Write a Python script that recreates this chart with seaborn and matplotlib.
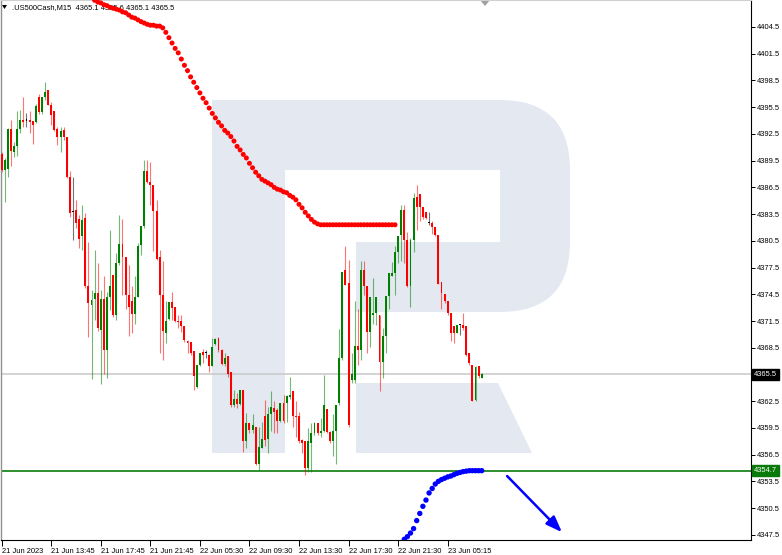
import numpy as np
import pandas as pd
import matplotlib
matplotlib.use("Agg")
import matplotlib.pyplot as plt
import seaborn as sns
from matplotlib.patches import Rectangle, FancyBboxPatch, Polygon

# ---------------- data ----------------
title_text = ".US500Cash,M15  4365.1 4365.6 4365.1 4365.5"

opens = [4390.2, 4388.5, 4388.6, 4393.0, 4390.5, 4391.1, 4393.0, 4394.1, 4394.0, 4394.1,
         4394.0, 4393.8, 4396.6, 4395.0, 4396.6, 4397.4, 4395.7, 4395.1, 4393.1, 4392.2,
         4392.9, 4392.1, 4387.7, 4383.7, 4384.0, 4383.0, 4381.0, 4383.1, 4375.4, 4373.3,
         4374.0, 4374.6, 4370.5, 4374.0, 4368.2, 4374.2, 4376.7, 4372.2, 4378.0, 4380.1,
         4378.7, 4374.4, 4373.7, 4372.3, 4374.2, 4380.0, 4382.2, 4388.3, 4387.1, 4386.8,
         4383.9, 4378.7, 4374.4, 4370.1, 4371.7, 4373.6, 4373.1, 4371.5, 4371.5, 4370.9,
         4369.2, 4369.1, 4368.1, 4364.1, 4366.6, 4368.0, 4367.9, 4367.7, 4366.5, 4368.9,
         4369.6, 4368.3, 4366.7, 4367.6, 4365.8, 4362.1, 4362.8, 4362.2, 4363.8, 4358.0,
         4360.0, 4359.3, 4359.6, 4355.5, 4357.3, 4360.8, 4358.3, 4361.1, 4361.7, 4361.5,
         4360.3, 4362.3, 4362.3, 4363.0, 4363.6, 4360.8, 4360.8, 4358.1, 4358.0, 4355.0,
         4357.8, 4358.9, 4360.0, 4358.9, 4359.1, 4361.6, 4359.0, 4358.0, 4359.1, 4362.3,
         4367.3, 4377.2, 4375.8, 4364.9, 4364.9, 4368.7, 4368.2, 4377.2, 4375.4, 4370.3,
         4372.2, 4372.4, 4372.2, 4366.9, 4369.8, 4374.3, 4376.5, 4376.9, 4379.3, 4381.2,
         4384.0, 4380.6, 4375.4, 4380.6, 4385.4, 4385.7, 4384.3, 4383.7, 4382.5, 4382.5,
         4382.1, 4381.1, 4375.9, 4374.5, 4373.7, 4372.4, 4370.9, 4370.2, 4371.1, 4371.0,
         4370.9, 4367.9, 4366.6, 4362.6, 4366.5, 4365.1]
highs = [4390.5, 4389.8, 4393.2, 4394.1, 4391.6, 4395.1, 4395.2, 4396.6, 4394.8, 4395.1,
         4394.0, 4395.9, 4397.0, 4396.6, 4398.3, 4397.4, 4396.1, 4395.1, 4393.3, 4393.3,
         4393.3, 4392.1, 4388.3, 4387.7, 4385.1, 4383.4, 4384.5, 4383.6, 4380.4, 4375.0,
         4379.5, 4378.0, 4375.0, 4376.5, 4374.7, 4381.7, 4376.7, 4379.1, 4383.4, 4382.9,
         4378.7, 4377.8, 4375.4, 4376.6, 4380.3, 4382.2, 4389.6, 4389.6, 4389.4, 4386.8,
         4385.1, 4379.5, 4378.2, 4373.7, 4373.6, 4374.7, 4373.1, 4372.2, 4372.2, 4370.9,
         4369.4, 4369.1, 4368.1, 4366.6, 4367.9, 4368.4, 4368.3, 4367.8, 4369.6, 4369.6,
         4369.7, 4368.4, 4367.9, 4367.6, 4365.8, 4363.8, 4363.4, 4363.8, 4363.8, 4361.2,
         4360.0, 4361.1, 4359.6, 4359.6, 4360.2, 4362.6, 4361.9, 4363.6, 4362.5, 4361.7,
         4362.3, 4363.2, 4363.2, 4365.2, 4363.6, 4362.5, 4361.3, 4358.3, 4358.0, 4359.5,
         4360.0, 4360.2, 4360.0, 4360.6, 4365.4, 4361.6, 4359.1, 4361.1, 4362.1, 4370.6,
         4377.0, 4379.9, 4378.4, 4367.9, 4373.7, 4372.9, 4378.2, 4378.2, 4375.4, 4374.2,
         4376.3, 4374.2, 4372.2, 4370.7, 4374.3, 4376.9, 4378.1, 4379.9, 4381.0, 4384.5,
         4384.5, 4381.5, 4380.8, 4385.9, 4386.8, 4385.7, 4384.3, 4383.7, 4383.7, 4382.7,
         4382.1, 4381.2, 4375.9, 4374.5, 4373.7, 4372.4, 4370.9, 4371.1, 4371.2, 4372.4,
         4370.9, 4367.9, 4366.6, 4366.5, 4366.5, 4365.7]
lows = [4388.2, 4384.9, 4387.7, 4388.9, 4389.9, 4390.0, 4392.6, 4393.3, 4393.3, 4392.6,
        4391.4, 4393.7, 4394.7, 4394.7, 4396.3, 4395.7, 4393.5, 4392.8, 4391.3, 4390.5,
        4391.8, 4387.5, 4383.2, 4380.6, 4381.9, 4379.7, 4379.5, 4375.2, 4369.7, 4365.0,
        4371.6, 4370.4, 4364.4, 4365.6, 4365.1, 4372.7, 4372.0, 4371.6, 4377.8, 4374.4,
        4372.9, 4369.8, 4370.1, 4371.2, 4374.2, 4378.9, 4381.9, 4387.0, 4384.5, 4379.4,
        4378.4, 4367.9, 4367.1, 4369.0, 4371.6, 4371.6, 4371.4, 4370.7, 4370.3, 4369.1,
        4367.9, 4367.7, 4363.8, 4364.0, 4366.4, 4366.8, 4367.3, 4365.8, 4366.4, 4368.8,
        4368.0, 4366.6, 4366.4, 4365.2, 4361.9, 4361.9, 4361.7, 4362.1, 4356.8, 4357.2,
        4358.9, 4358.9, 4355.3, 4354.8, 4357.2, 4357.5, 4356.7, 4359.1, 4358.9, 4358.9,
        4360.2, 4360.0, 4360.2, 4362.7, 4359.6, 4358.5, 4357.8, 4356.7, 4354.2, 4354.6,
        4354.6, 4358.7, 4358.7, 4358.5, 4359.0, 4358.9, 4357.8, 4356.3, 4355.5, 4362.1,
        4367.1, 4375.5, 4359.6, 4364.5, 4364.5, 4366.6, 4367.1, 4374.4, 4367.9, 4368.6,
        4371.2, 4371.1, 4363.6, 4365.1, 4367.9, 4372.9, 4376.5, 4374.4, 4378.0, 4378.2,
        4378.0, 4375.3, 4373.1, 4379.3, 4381.7, 4382.7, 4383.0, 4382.9, 4382.3, 4381.3,
        4381.0, 4375.6, 4372.9, 4373.5, 4372.2, 4369.2, 4369.0, 4370.1, 4369.9, 4370.5,
        4367.6, 4366.6, 4362.5, 4362.5, 4365.1, 4365.1]
closes = [4388.5, 4389.6, 4393.0, 4390.6, 4391.1, 4393.0, 4394.1, 4393.8, 4394.0, 4393.8,
          4393.5, 4395.6, 4395.0, 4396.6, 4397.2, 4395.7, 4394.6, 4392.9, 4392.2, 4392.8,
          4392.2, 4387.7, 4383.6, 4383.7, 4382.5, 4380.7, 4382.8, 4375.4, 4373.5, 4373.9,
          4374.6, 4370.7, 4374.0, 4368.2, 4374.2, 4375.4, 4372.2, 4378.0, 4380.1, 4378.7,
          4374.4, 4373.1, 4372.3, 4374.2, 4379.9, 4382.2, 4388.3, 4387.1, 4386.8, 4383.8,
          4378.5, 4374.4, 4370.4, 4371.5, 4373.6, 4373.0, 4371.5, 4371.4, 4370.9, 4369.4,
          4369.0, 4367.9, 4365.3, 4366.6, 4367.9, 4367.7, 4367.9, 4366.4, 4368.6, 4369.5,
          4368.3, 4366.7, 4367.4, 4365.6, 4362.1, 4362.8, 4362.2, 4363.8, 4358.0, 4360.0,
          4359.3, 4359.8, 4355.5, 4357.4, 4358.3, 4358.1, 4361.1, 4361.9, 4361.3, 4360.3,
          4362.3, 4360.3, 4363.1, 4363.2, 4360.8, 4360.7, 4358.0, 4357.8, 4355.0, 4358.0,
          4358.9, 4360.0, 4358.9, 4359.1, 4362.1, 4359.0, 4358.0, 4359.1, 4362.1, 4367.3,
          4377.0, 4375.5, 4359.8, 4365.6, 4368.7, 4368.2, 4377.2, 4375.4, 4370.3, 4374.2,
          4372.4, 4374.2, 4366.9, 4369.8, 4374.3, 4376.9, 4376.9, 4379.3, 4381.0, 4384.0,
          4380.6, 4375.4, 4380.6, 4385.3, 4384.3, 4384.3, 4383.2, 4383.1, 4382.5, 4382.1,
          4381.1, 4375.7, 4374.6, 4373.7, 4372.4, 4370.2, 4370.1, 4371.1, 4371.1, 4370.7,
          4367.7, 4366.8, 4362.5, 4366.3, 4365.3, 4365.5]

red_line_start = 29   # candle index of first red dot
red_line = [4407.9, 4407.5, 4407.3, 4407.2, 4407.0, 4406.9, 4406.7, 4406.6, 4406.5, 4406.4,
            4406.2, 4406.1, 4405.85, 4405.6, 4405.5, 4405.3, 4405.1, 4404.95, 4404.8, 4404.7,
            4404.7, 4404.6, 4404.6, 4404.4, 4403.9, 4403.3, 4402.7, 4402.1, 4401.6, 4400.9,
            4400.2, 4399.6, 4398.9, 4398.3, 4397.7, 4397.1, 4396.5, 4396.0, 4395.4, 4394.8,
            4394.3, 4393.8, 4393.4, 4392.9, 4392.6, 4392.2, 4391.7, 4391.1, 4390.7, 4390.2,
            4389.8, 4389.2, 4388.7, 4388.2, 4387.8, 4387.4, 4387.2, 4387.0, 4386.8, 4386.5,
            4386.3, 4386.2, 4386.0, 4385.9, 4385.6, 4385.4, 4385.1, 4384.6, 4384.2, 4383.7,
            4383.3, 4382.9, 4382.6, 4382.4, 4382.3, 4382.3, 4382.3, 4382.3, 4382.3, 4382.3,
            4382.3, 4382.3, 4382.3, 4382.3, 4382.3, 4382.3, 4382.3, 4382.3, 4382.3, 4382.3,
            4382.3, 4382.3, 4382.3, 4382.3, 4382.3, 4382.3, 4382.3, 4382.3, 4382.3]

blue_line_start = 129
blue_line = [4346.6, 4347.0, 4347.3, 4347.7, 4348.2, 4349.1, 4349.9, 4350.7, 4351.4, 4352.2,
             4352.7, 4353.2, 4353.5, 4353.7, 4353.85, 4354.0, 4354.1, 4354.25, 4354.4, 4354.5,
             4354.6, 4354.65, 4354.7, 4354.7, 4354.7, 4354.7, 4354.7]

support_level = 4354.7
last_price = 4365.5
arrow_from = (163.2, 4354.1)
arrow_to = (180.9, 4347.8)

ytick_values = [4404.5, 4401.5, 4398.5, 4395.5, 4392.5, 4389.5, 4386.5, 4383.5, 4380.5,
                4377.5, 4374.5, 4371.5, 4368.5, 4365.5, 4362.5, 4359.5, 4356.5, 4353.5,
                4350.5, 4347.5]
xtick_index = [0, 16, 32, 48, 64, 80, 96, 112, 128, 144]
xtick_labels = ["21 Jun 2023", "21 Jun 13:45", "21 Jun 17:45", "21 Jun 21:45",
                "22 Jun 05:30", "22 Jun 09:30", "22 Jun 13:30", "22 Jun 17:30",
                "22 Jun 21:30", "23 Jun 05:15"]

# ---------------- style ----------------
sns.set_theme(style="white")
plt.rcParams["font.family"] = ["Liberation Sans", "DejaVu Sans"]
FS = 5.4
BULL = "#008000"
BEAR = "#ff0000"
WM = "#e4e9f1"

W, H = 782, 555
fig = plt.figure(figsize=(W / 100, H / 100), dpi=100, facecolor="white")

# background / watermark axes in pixel coordinates
bg = fig.add_axes([0, 0, 1, 1], zorder=0)
bg.set_xlim(0, W)
bg.set_ylim(H, 0)
bg.axis("off")
bg.add_patch(FancyBboxPatch((212, 100), 358, 212,
                            boxstyle="round,pad=0,rounding_size=70",
                            fc=WM, ec="none"))
bg.add_patch(Rectangle((212, 100), 73, 353, fc=WM, ec="none"))
bg.add_patch(Rectangle((212, 100), 120, 70, fc=WM, ec="none"))
bg.add_patch(Rectangle((285, 170), 215, 72, fc="white", ec="none"))
bg.add_patch(Rectangle((285, 242), 71, 72, fc="white", ec="none"))
bg.add_patch(Polygon([(356, 383), (498, 383), (532, 453), (356, 453)],
                     closed=True, fc=WM, ec="none"))
# chart header and shift marker
bg.add_patch(Polygon([(2, 5), (7, 5), (4.5, 9)], closed=True, fc="black", ec="none"))
bg.text(12, 7.5, title_text, fontsize=FS, va="center", ha="left", color="black")
bg.add_patch(Polygon([(480, 0), (490, 0), (485, 6)], closed=True, fc="#a0a0a0", ec="none"))

# main axes
ax = fig.add_axes([1 / W, 15 / H, 750 / W, 540 / H], zorder=1)
ax.set_facecolor("none")
ax.set_xlim(-0.226, 241.95)
ax.set_ylim(4346.92, 4407.53)

df = pd.DataFrame({"o": opens, "h": highs, "l": lows, "c": closes})
df["i"] = np.arange(len(df))
colors = np.where(df["c"] > df["o"], BULL, np.where(df["c"] < df["o"], BEAR, "black"))

ax.axhline(last_price, color="#c8c8c8", lw=1.1, zorder=1)
ax.axhline(support_level, color="#0a7a0a", lw=1.2, zorder=1)

ax.vlines(df["i"], df["l"], df["h"], colors=colors, lw=0.8, alpha=0.55, zorder=2)
body_low = np.minimum(df["o"], df["c"])
body_h = np.maximum(np.abs(df["c"] - df["o"]), 0.12)
ax.bar(df["i"], body_h, bottom=body_low, width=0.62, color=colors, lw=0, zorder=3)

red_df = pd.DataFrame({"i": np.arange(red_line_start, red_line_start + len(red_line)),
                       "v": red_line})
blue_df = pd.DataFrame({"i": np.arange(blue_line_start, blue_line_start + len(blue_line)),
                        "v": blue_line})
sns.scatterplot(data=red_df, x="i", y="v", ax=ax, color="#ff0000", s=13,
                edgecolor="none", zorder=4, legend=False)
sns.scatterplot(data=blue_df, x="i", y="v", ax=ax, color="#0000ff", s=15,
                edgecolor="none", zorder=4, legend=False)

ax.annotate("", xy=arrow_to, xytext=arrow_from,
            arrowprops=dict(arrowstyle="-|>,head_length=0.8,head_width=0.3",
                            color="#0000ff", lw=1.8, shrinkA=0, shrinkB=0), zorder=5)

# axes decoration
ax.set_xlabel("")
ax.set_ylabel("")
ax.yaxis.tick_right()
ax.set_yticks(ytick_values)
# the current-price tick is labelled by the black price box instead
ax.set_yticklabels(["" if abs(v - last_price) < 1e-6 else f"{v:.1f}" for v in ytick_values])
ax.set_xticks(xtick_index)
ax.set_xticklabels(xtick_labels)
for lbl in ax.get_xticklabels():
    lbl.set_ha("left")
ax.tick_params(axis="y", which="both", right=True, left=False, direction="out",
               length=3, width=0.7, pad=1.5, labelsize=FS, colors="black")
ax.tick_params(axis="x", which="both", bottom=True, direction="out",
               length=4, width=0.7, pad=1.5, labelsize=FS, colors="black")
for side in ["right", "bottom"]:
    ax.spines[side].set_color("black")
    ax.spines[side].set_linewidth(0.8)
ax.spines["left"].set_color("#909090")
ax.spines["left"].set_linewidth(1.0)
ax.spines["top"].set_color("#d0d0d0")
ax.spines["top"].set_linewidth(0.8)
ax.grid(False)

# price labels on the scale
ax.text(1.0035, last_price, f"{last_price:.1f}", transform=ax.get_yaxis_transform(),
        fontsize=FS, color="white", va="center", ha="left", zorder=6, clip_on=False,
        bbox=dict(boxstyle="square,pad=0.25", fc="black", ec="black"))
ax.text(1.0035, support_level, f"{support_level:.1f}", transform=ax.get_yaxis_transform(),
        fontsize=FS, color="white", va="center", ha="left", zorder=6, clip_on=False,
        bbox=dict(boxstyle="square,pad=0.25", fc="#0a7a0a", ec="#0a7a0a"))

fig.savefig("out.png", dpi=100, facecolor="white")
